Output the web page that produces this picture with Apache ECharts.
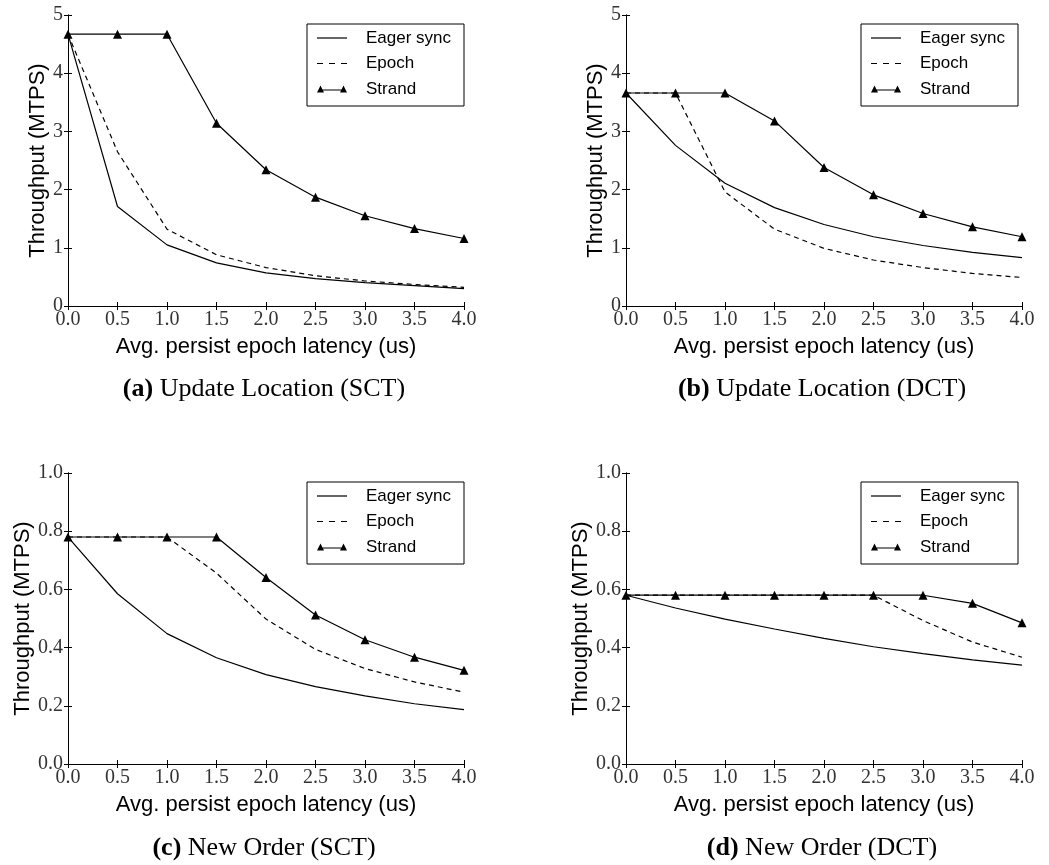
<!DOCTYPE html>
<html>
<head>
<meta charset="utf-8">
<script src="https://cdn.jsdelivr.net/npm/echarts@6/dist/echarts.min.js"></script>
<style>
html,body{margin:0;padding:0;background:#fff;}
#chart{width:1049px;height:865px;}
</style>
</head>
<body>
<div id="chart"></div>
<script>
// ---- data ----
const latency = [0.0, 0.5, 1.0, 1.5, 2.0, 2.5, 3.0, 3.5, 4.0];
const seriesNames = ['Eager sync', 'Epoch', 'Strand'];

const ulSctEager  = [4.67, 1.71, 1.05, 0.74, 0.57, 0.47, 0.40, 0.35, 0.30];
const ulSctEpoch  = [4.67, 2.65, 1.32, 0.88, 0.66, 0.52, 0.43, 0.37, 0.32];
const ulSctStrand = [4.67, 4.67, 4.67, 3.14, 2.34, 1.87, 1.55, 1.33, 1.16];

const ulDctEager  = [3.66, 2.76, 2.11, 1.69, 1.40, 1.19, 1.04, 0.92, 0.83];
const ulDctEpoch  = [3.66, 3.66, 1.96, 1.32, 0.99, 0.79, 0.66, 0.56, 0.49];
const ulDctStrand = [3.66, 3.66, 3.66, 3.18, 2.38, 1.91, 1.59, 1.36, 1.19];

const noSctEager  = [0.78, 0.585, 0.448, 0.365, 0.307, 0.266, 0.234, 0.207, 0.187];
const noSctEpoch  = [0.78, 0.78, 0.78, 0.656, 0.498, 0.394, 0.328, 0.282, 0.247];
const noSctStrand = [0.78, 0.78, 0.78, 0.78, 0.641, 0.512, 0.427, 0.367, 0.322];

const noDctEager  = [0.58, 0.536, 0.498, 0.464, 0.432, 0.403, 0.379, 0.358, 0.340];
const noDctEpoch  = [0.58, 0.58, 0.58, 0.58, 0.58, 0.58, 0.493, 0.419, 0.367];
const noDctStrand = [0.58, 0.58, 0.58, 0.58, 0.58, 0.58, 0.58, 0.552, 0.485];

const captionTags = ['(a)', '(b)', '(c)', '(d)'];
const captionTexts = ['Update Location (SCT)', 'Update Location (DCT)', 'New Order (SCT)', 'New Order (DCT)'];
const xTitle = 'Avg. persist epoch latency (us)';
const yTitle = 'Throughput (MTPS)';

const panelData = [
  [ulSctEager, ulSctEpoch, ulSctStrand],
  [ulDctEager, ulDctEpoch, ulDctStrand],
  [noSctEager, noSctEpoch, noSctStrand],
  [noDctEager, noDctEpoch, noDctStrand]
];
const yMax = [5, 5, 1, 1];
const yStep = [1, 1, 0.2, 0.2];
const yDecimals = [0, 0, 1, 1];

// ---- layout ----
const layout = [
  {left: 68,  top: 15,  nameGap: 15, legendLeft: 307, capX: 264, capY: 389},
  {left: 626, top: 15,  nameGap: 16, legendLeft: 861, capX: 822, capY: 389},
  {left: 68,  top: 473, nameGap: 32, legendLeft: 307, capX: 264, capY: 848},
  {left: 626, top: 473, nameGap: 32, legendLeft: 861, capX: 822, capY: 848}
];
const W = 396, H = 291;

const tickFont = {fontFamily: 'Liberation Serif', fontSize: 20, color: '#333'};
const sansFont = 'Liberation Sans';
const solidIcon = 'path://M0,3.4L30,3.4L30,4.6L0,4.6Z';
const dashIcon = 'path://M0,3.4L6,3.4L6,4.6L0,4.6Z M12,3.4L18,3.4L18,4.6L12,4.6Z M24,3.4L30,3.4L30,4.6L24,4.6Z';
const strandIcon = 'path://M0,7.5L3.5,0.5L7,7.5Z M23,7.5L26.5,0.5L30,7.5Z M3.5,4.4L26.5,4.4L26.5,5.6L3.5,5.6Z';

const grids = [], xAxes = [], yAxes = [], series = [], legends = [], graphics = [];

layout.forEach((L, i) => {
  grids.push({left: L.left, top: L.top, width: W, height: H, containLabel: false});
  const axisLine = {show: true, lineStyle: {color: '#000', width: 1}};
  const tick = {show: true, inside: true, length: 4, lineStyle: {color: '#000', width: 1}};
  xAxes.push({
    type: 'value', gridIndex: i, min: 0, max: 4, interval: 0.5, position: 'bottom',
    axisLine, axisTick: tick, splitLine: {show: false},
    axisLabel: Object.assign({margin: 4, formatter: v => v.toFixed(1)}, tickFont),
    name: xTitle, nameLocation: 'middle', nameGap: 30,
    nameTextStyle: {fontFamily: sansFont, fontSize: 22, color: '#000'}
  });
  xAxes.push({
    type: 'value', gridIndex: i, min: 0, max: 4, interval: 0.5, position: 'top',
    axisLine, axisTick: tick, splitLine: {show: false}, axisLabel: {show: false}
  });
  yAxes.push({
    type: 'value', gridIndex: i, min: 0, max: yMax[i], interval: yStep[i], position: 'left',
    axisLine, axisTick: tick, splitLine: {show: false},
    axisLabel: Object.assign({margin: 5, formatter: v => v.toFixed(yDecimals[i])}, tickFont),
    name: yTitle, nameLocation: 'middle', nameGap: L.nameGap, nameRotate: 90,
    nameTextStyle: {fontFamily: sansFont, fontSize: 22, color: '#000'}
  });
  yAxes.push({
    type: 'value', gridIndex: i, min: 0, max: yMax[i], interval: yStep[i], position: 'right',
    axisLine, axisTick: tick, splitLine: {show: false}, axisLabel: {show: false}
  });

  const d = panelData[i];
  const pts = arr => latency.map((x, k) => [x, arr[k]]);
  series.push({
    name: seriesNames[0], type: 'line', xAxisIndex: 2 * i, yAxisIndex: 2 * i,
    data: pts(d[0]), symbol: 'none', color: '#000',
    lineStyle: {color: '#000', width: 1.2, type: 'solid'}, z: 2, animation: false
  });
  series.push({
    name: seriesNames[1], type: 'line', xAxisIndex: 2 * i, yAxisIndex: 2 * i,
    data: pts(d[1]), symbol: 'none', color: '#000',
    lineStyle: {color: '#000', width: 1.2, type: [5, 4]}, z: 3, animation: false
  });
  series.push({
    name: seriesNames[2], type: 'line', xAxisIndex: 2 * i, yAxisIndex: 2 * i,
    data: pts(d[2]), symbol: 'triangle', symbolSize: 9, showAllSymbol: true, color: '#000',
    itemStyle: {color: '#000'},
    lineStyle: {color: '#000', width: 1.2, type: 'solid'}, z: 4, animation: false
  });

  legends.push({
    orient: 'vertical', left: L.legendLeft, top: L.top + 9,
    backgroundColor: '#fff', borderColor: '#000', borderWidth: 1, borderRadius: 0,
    padding: [5, 8, 8, 10], itemWidth: 30, itemHeight: 8, itemGap: 7.5,
    selectedMode: false,
    itemStyle: {color: '#000', borderWidth: 0},
    lineStyle: {width: 0},
    textStyle: {fontFamily: sansFont, fontSize: 17, color: '#000', lineHeight: 18, padding: [0, 0, 0, 14], width: 90},
    data: [
      {name: seriesNames[0], icon: solidIcon},
      {name: seriesNames[1], icon: dashIcon},
      {name: seriesNames[2], icon: strandIcon}
    ]
  });

  graphics.push({
    type: 'text', x: L.capX, y: L.capY,
    style: {
      text: '{b|' + captionTags[i] + '} ' + captionTexts[i],
      align: 'center', verticalAlign: 'middle',
      fontFamily: 'Liberation Serif', fontSize: 26, fill: '#000',
      rich: {b: {fontFamily: 'Liberation Serif', fontSize: 26, fontWeight: 'bold', fill: '#000'}}
    }
  });
});

const chart = echarts.init(document.getElementById('chart'), null, {renderer: 'canvas'});
chart.setOption({
  animation: false,
  backgroundColor: '#fff',
  grid: grids, xAxis: xAxes, yAxis: yAxes, series, legend: legends,
  graphic: graphics
});
</script>
</body>
</html>
